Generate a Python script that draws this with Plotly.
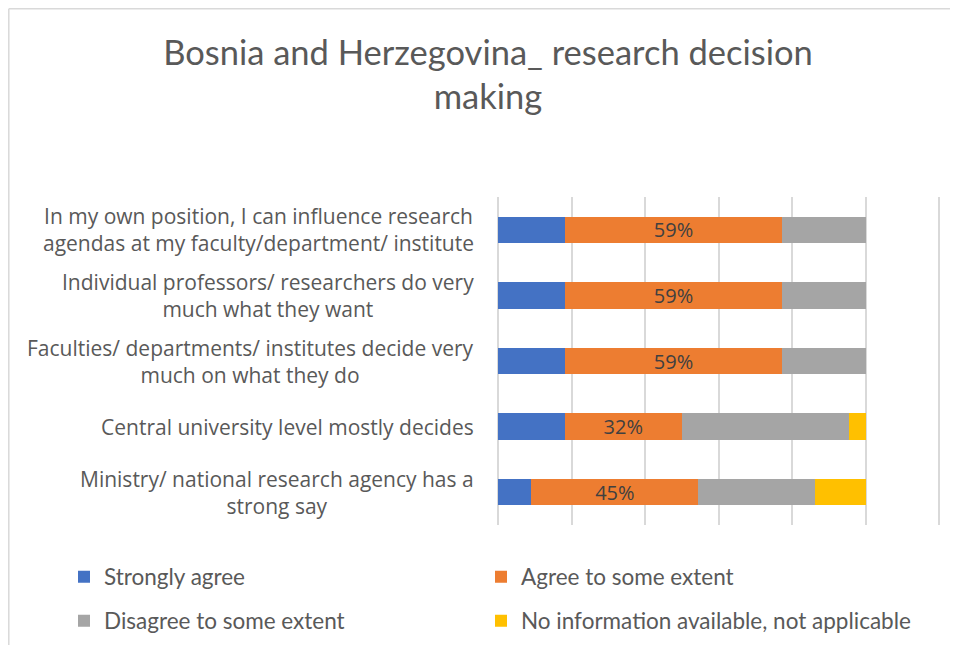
import plotly.graph_objects as go

categories = [
    "In my own position, I can influence research<br>agendas at my faculty/department/ institute",
    "Individual professors/ researchers do very<br>much what they want",
    "Faculties/ departments/ institutes decide very<br>much on what they do",
    "Central university level mostly decides",
    "Ministry/ national research agency has a<br>strong say",
]
series_names = [
    "Strongly agree",
    "Agree to some extent",
    "Disagree to some extent",
    "No information available, not applicable",
]
strongly_agree = [0.182, 0.182, 0.182, 0.182, 0.091]
agree_some = [0.591, 0.591, 0.591, 0.318, 0.454]
disagree_some = [0.227, 0.227, 0.227, 0.455, 0.318]
no_info = [0.0, 0.0, 0.0, 0.045, 0.137]
colors = ["#4472C4", "#ED7D31", "#A5A5A5", "#FFC000"]

# page has an 8px body margin; work in screen pixels and convert
OFF = 8
W, H = 958 - 2 * OFF, 653 - 2 * OFF
X0, X1 = 498, 939          # screen px of value 0 and 1.2
PX_PER = (X1 - X0) / 1.2
PAD = 4
PL, PR, PT, PB = X0 - PAD, X1 + PAD, 197, 525   # plot area in screen px
L, T = PL - OFF, PT - OFF
R, B = W - (PR - OFF), H - (PB - OFF)
PW, PH = PR - PL, PB - PT
XRANGE = [-PAD / PX_PER, 1.2 + PAD / PX_PER]


def px_x(px):
    return (px - PL) / PW


def px_y(py):
    return (PB - py) / PH


TITLE_FONT = "Lato, Calibri, sans-serif"
LABEL_FONT = "Open Sans, Segoe UI, sans-serif"
TXT = "#595959"

fig = go.Figure()
series_values = [strongly_agree, agree_some, disagree_some, no_info]
legend_ids = ["legend", "legend2", "legend3", "legend4"]
for i, (name, vals) in enumerate(zip(series_names, series_values)):
    kw = {}
    if i == 1:
        kw = dict(
            texttemplate="%{x:.0%}",
            textposition="inside",
            insidetextanchor="middle",
            constraintext="none",
            textfont=dict(family=LABEL_FONT, size=20, color="#404040"),
        )
    fig.add_trace(go.Bar(
        y=categories, x=vals, name=name, orientation="h",
        marker=dict(color=colors[i], line=dict(width=0)),
        legend=legend_ids[i], hoverinfo="skip", **kw))

# category labels as centered multi-line annotations
for c in categories:
    fig.add_annotation(
        x=px_x(476), xref="paper", y=c, yref="y",
        text=c, showarrow=False, xanchor="right", yanchor="middle",
        align="center", font=dict(family=LABEL_FONT, size=21, color=TXT))

leg_pos = [(64, 577), (481, 577), (64, 621), (481, 621)]
legend_layout = {}
for lid, (lx, ly) in zip(legend_ids, leg_pos):
    legend_layout[lid] = dict(
        x=(lx - OFF) / W, y=1 - (ly - OFF) / H,
        xref="container", yref="container",
        xanchor="left", yanchor="middle",
        orientation="h", bgcolor="rgba(0,0,0,0)",
        font=dict(family=TITLE_FONT, size=22.5, color=TXT))

# chart border (left and top visible)
border = dict(color="#D9D9D9", width=1.5)
shapes = [
    dict(type="line", xref="paper", yref="paper", x0=px_x(8.8), x1=px_x(8.8),
         y0=px_y(8.8), y1=px_y(680), line=border),
    dict(type="line", xref="paper", yref="paper", x0=px_x(8.8), x1=px_x(990),
         y0=px_y(8.8), y1=px_y(8.8), line=border),
]

fig.update_layout(
    width=W, height=H,
    margin=dict(l=L, r=R, t=T, b=B, autoexpand=False),
    barmode="stack", bargap=0.6,
    paper_bgcolor="white", plot_bgcolor="white",
    title=dict(text="Bosnia and Herzegovina_ research decision<br>making",
               x=(488 - OFF) / W, xanchor="center", xref="container",
               y=1 - (64.5 - OFF) / H, yanchor="middle", yref="container",
               font=dict(family=TITLE_FONT, size=34.5, color=TXT)),
    xaxis=dict(range=XRANGE, dtick=0.2, tick0=0, showticklabels=False,
               showgrid=True, gridcolor="#D9D9D9", gridwidth=1.5,
               zeroline=False, showline=False, fixedrange=True),
    yaxis=dict(autorange="reversed", showticklabels=False, showgrid=False,
               zeroline=False, showline=False, ticks=""),
    shapes=shapes,
    showlegend=True,
    **legend_layout,
)

fig.write_html("out.html")
